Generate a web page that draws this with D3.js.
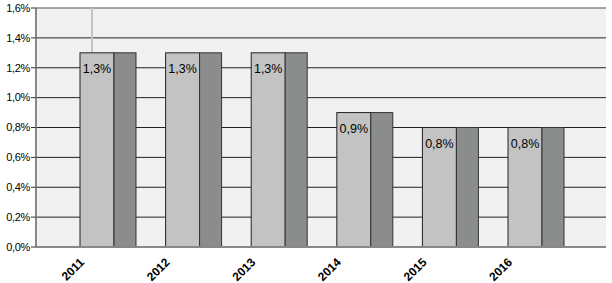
<!DOCTYPE html>
<html>
<head>
<meta charset="utf-8">
<script src="https://cdn.jsdelivr.net/npm/d3@7"></script>
<style>
	body { margin: 0; background: #fff; }
	text { font-family: "Liberation Sans", Arial, sans-serif; }
</style>
</head>
<body>
<svg class="chart"></svg>
<script>
/*Chart values*/
const years = ["2011", "2012", "2013", "2014", "2015", "2016"]
const seriesA = [1.3, 1.3, 1.3, 0.9, 0.8, 0.8]
const seriesB = [1.3, 1.3, 1.3, 0.9, 0.8, 0.8]
const yTicks = [0, 0.2, 0.4, 0.6, 0.8, 1.0, 1.2, 1.4, 1.6]

const width = 612, height = 283
const margin = { top: 8, left: 36, right: 4, bottom: 36 }

var chart = d3.select(".chart")
	.attr("width", width)
	.attr("height", height)

/*Scales*/
var x = d3.scaleBand()
	.domain(years)
	.range([margin.left, width - margin.right])
	.paddingInner(0.346)
	.paddingOuter(0.514)

var y = d3.scaleLinear()
	.domain([0, 1.6])
	.range([height - margin.bottom, margin.top])

var fmt = (d) => d3.format(".1f")(d).replace(".", ",") + "%"

/*Plot background*/
chart.append("rect")
	.attr("x", margin.left)
	.attr("y", margin.top)
	.attr("width", width - margin.right - margin.left - 2)
	.attr("height", y(0) - margin.top)
	.attr("fill", "#f0f1f0")

/*Grid lines*/
chart.append("g")
	.selectAll("line")
	.data(yTicks.filter((d) => d > 0 && d < 1.6))
	.enter()
	.append("line")
		.attr("x1", margin.left)
		.attr("x2", width - margin.right - 2)
		.attr("y1", (d) => y(d))
		.attr("y2", (d) => y(d))
		.attr("stroke", "#222")
		.attr("stroke-width", 1)

/*Top line*/
chart.append("line")
	.attr("x1", margin.left).attr("x2", width - margin.right - 2)
	.attr("y1", y(1.6)).attr("y2", y(1.6))
	.attr("stroke", "#888").attr("stroke-width", 1.5)

/*Odd vertical line above the first bar*/
chart.append("line")
	.attr("x1", x(years[0]) + 12).attr("x2", x(years[0]) + 12)
	.attr("y1", y(1.6)).attr("y2", y(seriesA[0]))
	.attr("stroke", "#c4c4c4").attr("stroke-width", 2)

/*Bars*/
var lightW = x.bandwidth() * 0.607
var darkW = x.bandwidth() - lightW

var groups = chart.append("g")
	.selectAll("g")
	.data(years.map((d, i) => ({ year: d, a: seriesA[i], b: seriesB[i] })))
	.enter()
	.append("g")

groups.append("rect")
	.attr("x", (d) => x(d.year))
	.attr("y", (d) => y(d.a))
	.attr("width", lightW)
	.attr("height", (d) => y(0) - y(d.a))
	.attr("fill", "#c2c3c2")
	.attr("stroke", "#222")
	.attr("stroke-width", 1)

groups.append("rect")
	.attr("x", (d) => x(d.year) + lightW)
	.attr("y", (d) => y(d.b))
	.attr("width", darkW)
	.attr("height", (d) => y(0) - y(d.b))
	.attr("fill", "#8a8d8c")
	.attr("stroke", "#333")
	.attr("stroke-width", 1)

/*Data labels*/
groups.append("text")
	.attr("x", (d) => x(d.year) + lightW / 2)
	.attr("y", (d) => y(d.a) + 20)
	.attr("text-anchor", "middle")
	.attr("fill", "#000")
	.style("font-size", "12.5px")
	.text((d) => fmt(d.a))

/*Y axis*/
chart.append("line")
	.attr("x1", margin.left).attr("x2", margin.left)
	.attr("y1", margin.top).attr("y2", y(0))
	.attr("stroke", "#888").attr("stroke-width", 2)

var yAxis = chart.append("g")
	.selectAll("g")
	.data(yTicks)
	.enter()
	.append("g")
		.attr("transform", (d) => "translate(0," + y(d) + ")")

yAxis.append("line")
	.attr("x1", margin.left - 5).attr("x2", margin.left)
	.attr("stroke", "#333")

yAxis.append("text")
	.attr("x", margin.left - 6)
	.attr("dy", "0.35em")
	.attr("text-anchor", "end")
	.attr("fill", "#000")
	.style("font-size", "11px")
	.style("letter-spacing", "-0.3px")
	.text(fmt)

/*X axis*/
chart.append("line")
	.attr("x1", margin.left).attr("x2", width - margin.right - 2)
	.attr("y1", y(0)).attr("y2", y(0))
	.attr("stroke", "#888").attr("stroke-width", 2)

chart.append("g")
	.selectAll("text")
	.data(years)
	.enter()
	.append("text")
		.attr("transform", (d) => "translate(" + (x(d) - 1) + "," + (y(0) + 10) + ") rotate(-45)")
		.attr("text-anchor", "end")
		.attr("dy", "0.7em")
		.attr("fill", "#000")
		.style("font-size", "12px")
		.style("font-weight", "bold")
		.text((d) => d)
</script>
</body>
</html>
